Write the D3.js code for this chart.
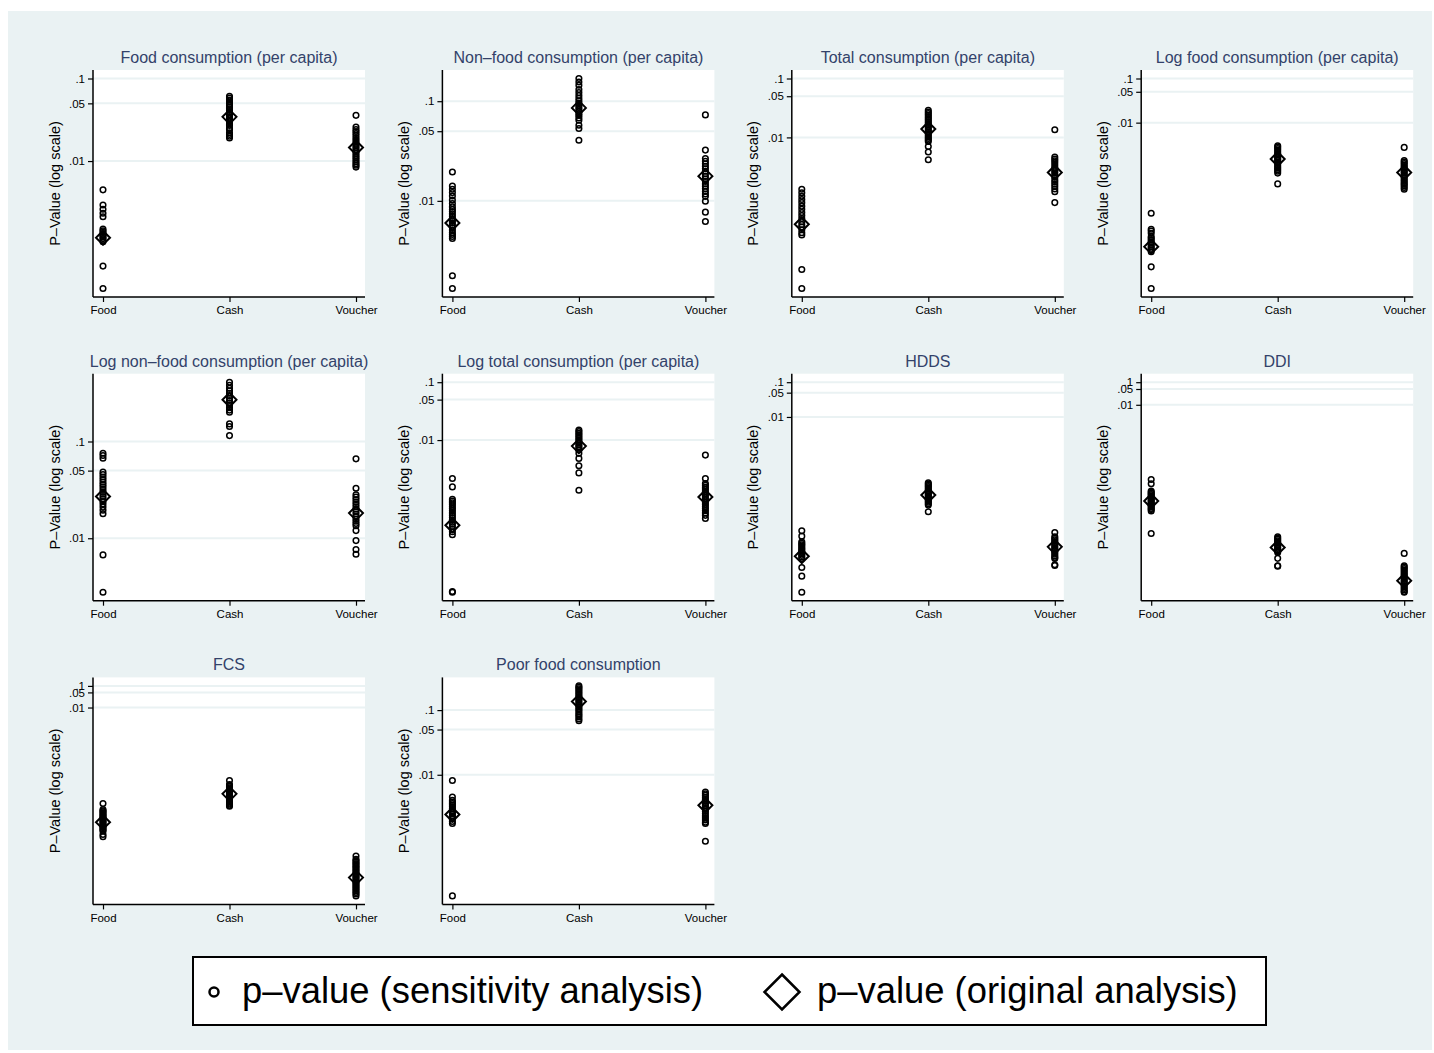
<!DOCTYPE html>
<html>
<head>
<meta charset="utf-8">
<script src="https://cdn.jsdelivr.net/npm/d3@7"></script>
<style>
  body { margin: 0; background: #fff; }
  svg { display: block; }
</style>
</head>
<body>
<div id="chart-area"></div>
<script>
const groups = ["Food", "Cash", "Voucher"]
const yTicks = [0.1, 0.05, 0.01]
const yTickLabels = [".1", ".05", ".01"]
const titles = [
  "Food consumption (per capita)", "Non\u2013food consumption (per capita)",
  "Total consumption (per capita)", "Log food consumption (per capita)",
  "Log non\u2013food consumption (per capita)", "Log total consumption (per capita)",
  "HDDS", "DDI", "FCS", "Poor food consumption"
]
const legendLabels = ["p\u2013value (sensitivity analysis)", "p\u2013value (original analysis)"]

// sensitivity p-values: [Food, Cash, Voucher]; original p-values in the same order
const foodSens = [
  [0.00448, 0.00294, 0.00261, 0.00233, 0.00212, 0.0015, 0.00143, 0.00137, 0.0013, 0.00125, 0.0012, 0.00115, 0.0011, 0.00105, 0.000534, 0.000286],
  [0.061, 0.058, 0.055, 0.052, 0.049, 0.047, 0.045, 0.043, 0.041, 0.039, 0.037, 0.036, 0.034, 0.033, 0.031, 0.030, 0.028, 0.027, 0.025, 0.024, 0.022, 0.021, 0.020, 0.019],
  [0.0358, 0.0259, 0.024, 0.0228, 0.0215, 0.0203, 0.019, 0.018, 0.017, 0.016, 0.0152, 0.0145, 0.0137, 0.013, 0.0123, 0.0116, 0.011, 0.0104, 0.0098, 0.0093, 0.0089, 0.00845]
]
const foodOrig = [0.00118, 0.0343, 0.0146]

const nonFoodSens = [
  [0.0195, 0.0141, 0.0131, 0.0121, 0.0112, 0.0102, 0.0094, 0.0087, 0.0082, 0.0078, 0.0074, 0.007, 0.0066, 0.0063, 0.006, 0.0057, 0.0054, 0.0051, 0.0048, 0.0046, 0.0044, 0.0042, 0.00177, 0.00132],
  [0.169, 0.156, 0.1445, 0.131, 0.122, 0.114, 0.107, 0.101, 0.096, 0.091, 0.087, 0.083, 0.079, 0.075, 0.072, 0.068, 0.0645, 0.0574, 0.0532, 0.0406],
  [0.0729, 0.0323, 0.0266, 0.025, 0.0236, 0.0222, 0.021, 0.0198, 0.0187, 0.0176, 0.0166, 0.0157, 0.0148, 0.014, 0.0132, 0.0124, 0.0117, 0.0111, 0.0099, 0.0077, 0.0062]
]
const nonFoodOrig = [0.006, 0.0857, 0.0177]

const totalSens = [
  [0.00132, 0.00115, 0.001, 0.00088, 0.00078, 0.00068, 0.0006, 0.00053, 0.00047, 0.00042, 0.00037, 0.00033, 0.0003, 0.00027, 0.00024, 0.00022, 0.0000573, 0.0000272],
  [0.0288, 0.027, 0.0253, 0.0237, 0.0222, 0.0208, 0.0195, 0.0183, 0.0172, 0.0161, 0.0151, 0.0141, 0.0132, 0.0124, 0.0116, 0.0109, 0.0102, 0.0096, 0.009, 0.00855, 0.007, 0.00564, 0.00417],
  [0.0135, 0.00464, 0.0043, 0.004, 0.0037, 0.0034, 0.0031, 0.0029, 0.0027, 0.0025, 0.0023, 0.0021, 0.0019, 0.00175, 0.0016, 0.00146, 0.00133, 0.0012, 0.000781]
]
const totalOrig = [0.000335, 0.0139, 0.00254]

const logFoodSens = [
  [8.85e-5, 3.84e-5, 3.5e-5, 3.11e-5, 2.61e-5, 2.4e-5, 2.2e-5, 2.0e-5, 1.85e-5, 1.7e-5, 1.55e-5, 1.42e-5, 1.3e-5, 1.19e-5, 5.42e-6, 1.75e-6],
  [0.003, 0.0028, 0.0026, 0.0024, 0.0022, 0.002, 0.0019, 0.0017, 0.0016, 0.0015, 0.0014, 0.0013, 0.0012, 0.0011, 0.001, 0.00093, 0.00086, 0.00079, 0.00072, 0.00041],
  [0.00275, 0.00139, 0.00128, 0.00118, 0.00109, 0.001, 0.00092, 0.00085, 0.00078, 0.00072, 0.00066, 0.00061, 0.00056, 0.00051, 0.00047, 0.00043, 0.0004, 0.00037, 0.00034, 0.000311]
]
const logFoodOrig = [1.55e-5, 0.0015, 0.00074]

const logNonFoodSens = [
  [0.0757, 0.0716, 0.0672, 0.0482, 0.0455, 0.043, 0.0405, 0.038, 0.036, 0.034, 0.032, 0.03, 0.0285, 0.027, 0.0255, 0.024, 0.0226, 0.021, 0.0195, 0.0179, 0.00673, 0.00277],
  [0.41, 0.38, 0.355, 0.335, 0.315, 0.295, 0.28, 0.265, 0.25, 0.236, 0.223, 0.211, 0.201, 0.152, 0.143, 0.115],
  [0.0662, 0.0329, 0.0281, 0.0266, 0.0251, 0.0237, 0.0224, 0.0212, 0.02, 0.0189, 0.0178, 0.0168, 0.0158, 0.015, 0.0142, 0.0135, 0.012, 0.00946, 0.00764, 0.00684]
]
const logNonFoodOrig = [0.027, 0.27, 0.0182]

const logTotalSens = [
  [0.00217, 0.00155, 0.00095, 0.00088, 0.00082, 0.00076, 0.0007, 0.00065, 0.0006, 0.00055, 0.0005, 0.00046, 0.00042, 0.00038, 0.00035, 0.00032, 0.00029, 0.00026, 0.000232, 2.42e-5, 2.35e-5],
  [0.0149, 0.014, 0.0131, 0.0123, 0.0115, 0.0108, 0.0101, 0.0094, 0.0088, 0.0082, 0.0077, 0.0072, 0.00671, 0.0059, 0.00482, 0.00359, 0.00271, 0.00136],
  [0.0055, 0.00217, 0.00178, 0.00165, 0.00153, 0.00142, 0.00131, 0.00121, 0.00112, 0.00104, 0.00096, 0.00089, 0.00082, 0.00076, 0.0007, 0.00065, 0.0006, 0.00055, 0.0005, 0.00044]
]
const logTotalOrig = [0.000337, 0.00787, 0.00104]

const hddsSens = [
  [5.28e-6, 3.72e-6, 2.55e-6, 2.3e-6, 2.1e-6, 1.9e-6, 1.7e-6, 1.55e-6, 1.4e-6, 1.27e-6, 1.15e-6, 1.04e-6, 9.4e-7, 8.47e-7, 4.67e-7, 2.62e-7, 9.06e-8],
  [1.28e-4, 1.18e-4, 1.08e-4, 9.9e-5, 9.1e-5, 8.3e-5, 7.6e-5, 7.0e-5, 6.4e-5, 5.9e-5, 5.4e-5, 4.9e-5, 4.5e-5, 4.1e-5, 3.8e-5, 3.5e-5, 3.2e-5, 2.91e-5, 1.87e-5],
  [4.75e-6, 3.55e-6, 3.2e-6, 2.9e-6, 2.6e-6, 2.35e-6, 2.1e-6, 1.9e-6, 1.7e-6, 1.55e-6, 1.4e-6, 1.25e-6, 1.12e-6, 1e-6, 9e-7, 8.47e-7, 5.6e-7, 5.3e-7]
]
const hddsOrig = [9.86e-7, 5.65e-5, 1.83e-6]

const ddiSens = [
  [4.97e-6, 3.21e-6, 1.52e-6, 1.35e-6, 1.2e-6, 1.06e-6, 9.4e-7, 8.3e-7, 7.3e-7, 6.5e-7, 5.7e-7, 5e-7, 4.4e-7, 3.9e-7, 3.4e-7, 3e-7, 2.6e-7, 2.3e-7, 2e-7, 2.01e-8],
  [1.43e-8, 1.25e-8, 1.1e-8, 9.6e-9, 8.4e-9, 7.4e-9, 6.5e-9, 5.7e-9, 5e-9, 4.4e-9, 3.8e-9, 3.35e-9, 2.93e-9, 1.6e-9, 7.5e-10, 7.2e-10],
  [2.65e-9, 7.5e-10, 6.5e-10, 5.6e-10, 4.8e-10, 4.1e-10, 3.5e-10, 3e-10, 2.6e-10, 2.2e-10, 1.9e-10, 1.6e-10, 1.4e-10, 1.2e-10, 1e-10, 8.6e-11, 7.4e-11, 6.3e-11, 5.4e-11, 5.07e-11]
]
const ddiOrig = [5.5e-7, 4.86e-9, 1.64e-10]

const fcsSens = [
  [3.65e-7, 1.93e-7, 1.7e-7, 1.5e-7, 1.32e-7, 1.16e-7, 1.02e-7, 9e-8, 7.9e-8, 7e-8, 6.1e-8, 5.4e-8, 4.7e-8, 4.1e-8, 3.6e-8, 3.2e-8, 2.8e-8, 2.45e-8, 2.15e-8, 1.93e-8, 1.36e-8, 1.07e-8],
  [4.19e-6, 2.74e-6, 2.45e-6, 2.2e-6, 1.95e-6, 1.75e-6, 1.55e-6, 1.38e-6, 1.23e-6, 1.1e-6, 9.8e-7, 8.7e-7, 7.7e-7, 6.9e-7, 6.1e-7, 5.4e-7, 4.8e-7, 4.3e-7, 3.8e-7, 3.4e-7, 3e-7, 2.74e-7],
  [1.36e-9, 9.6e-10, 8.3e-10, 7.1e-10, 6.1e-10, 5.2e-10, 4.5e-10, 3.9e-10, 3.3e-10, 2.85e-10, 2.45e-10, 2.1e-10, 1.8e-10, 1.55e-10, 1.33e-10, 1.14e-10, 9.8e-11, 8.4e-11, 7.2e-11, 6.2e-11, 5.3e-11, 4.5e-11, 3.9e-11, 3.3e-11, 2.8e-11, 2.4e-11, 1.95e-11]
]
const fcsOrig = [5e-8, 1.02e-6, 1.37e-10]

const poorFoodSens = [
  [0.00817, 0.00452, 0.00403, 0.0038, 0.0036, 0.0034, 0.0032, 0.003, 0.0028, 0.0026, 0.0025, 0.0023, 0.0022, 0.00205, 0.0019, 0.00176, 0.000134],
  [0.2366, 0.225, 0.213, 0.202, 0.19, 0.18, 0.17, 0.16, 0.151, 0.143, 0.135, 0.127, 0.12, 0.113, 0.106, 0.1, 0.094, 0.088, 0.083, 0.078, 0.073, 0.0684],
  [0.0054, 0.0051, 0.0048, 0.0045, 0.0042, 0.004, 0.0037, 0.0035, 0.0033, 0.0031, 0.0029, 0.0027, 0.0025, 0.0023, 0.00215, 0.002, 0.00185, 0.00176, 0.00094]
]
const poorFoodOrig = [0.00243, 0.1355, 0.00337]

const panels = [
  [foodSens, foodOrig], [nonFoodSens, nonFoodOrig], [totalSens, totalOrig], [logFoodSens, logFoodOrig],
  [logNonFoodSens, logNonFoodOrig], [logTotalSens, logTotalOrig], [hddsSens, hddsOrig], [ddiSens, ddiOrig],
  [fcsSens, fcsOrig], [poorFoodSens, poorFoodOrig]
].map((d, i) => ({ title: titles[i], sens: d[0], orig: d[1] }))

const FONT = "'Liberation Sans', Arial, Helvetica, sans-serif"
const BG = "#eaf2f3"
const PW = 272, PH = 227, PAD = 8.5

const svg = d3.select("#chart-area").append("svg")
  .attr("width", 1434)
  .attr("height", 1053)

svg.append("rect")
  .attr("x", 8).attr("y", 11)
  .attr("width", 1424).attr("height", 1039)
  .attr("fill", BG)

const diamond = s => `M0,${-s}L${s},0L0,${s}L${-s},0Z`

panels.forEach((p, i) => {
  const col = i % 4, row = Math.floor(i / 4)
  const g = svg.append("g")
    .attr("transform", `translate(${93 + col * 349.4}, ${70 + row * 303.7})`)

  g.append("rect").attr("width", PW).attr("height", PH).attr("fill", "#fff")

  const all = p.sens.flat().concat(p.orig, yTicks)
  const y = d3.scaleLog()
    .domain([d3.min(all), d3.max(all)])
    .range([PH - PAD, PAD])
  const x = d3.scalePoint()
    .domain(groups)
    .range([10, 263])

  // gridlines
  g.selectAll(".grid")
    .data(yTicks)
    .enter().append("line")
    .attr("x1", 0).attr("x2", PW)
    .attr("y1", d => y(d)).attr("y2", d => y(d))
    .attr("stroke", BG).attr("stroke-width", 2)

  // sensitivity points
  p.sens.forEach((vals, j) => {
    g.selectAll(null)
      .data(vals)
      .enter().append("circle")
      .attr("cx", x(groups[j]))
      .attr("cy", d => y(d))
      .attr("r", 2.8)
      .attr("fill", "none")
      .attr("stroke", "#000")
      .attr("stroke-width", 1.5)
  })

  // original points
  g.selectAll(null)
    .data(p.orig)
    .enter().append("path")
    .attr("d", diamond(7))
    .attr("transform", (d, j) => `translate(${x(groups[j])}, ${y(d)})`)
    .attr("fill", "none")
    .attr("stroke", "#000")
    .attr("stroke-width", 2)

  const yAxis = g.append("g")
    .call(d3.axisLeft(y).tickValues(yTicks).tickFormat((d, j) => yTickLabels[j]).tickSize(5).tickPadding(3))
  const xAxis = g.append("g")
    .attr("transform", `translate(0, ${PH})`)
    .call(d3.axisBottom(x).tickSize(5).tickPadding(4))
  ;[yAxis, xAxis].forEach(a => {
    a.select(".domain").remove()
    a.selectAll("line").attr("stroke", "#000").attr("stroke-width", 1.2)
    a.selectAll("text").attr("fill", "#000").style("font-family", FONT).style("font-size", "11.5px")
  })

  g.append("line").attr("x1", 0).attr("x2", 0).attr("y1", 0).attr("y2", PH)
    .attr("stroke", "#000").attr("stroke-width", 1.5)
  g.append("line").attr("x1", 0).attr("x2", PW).attr("y1", PH).attr("y2", PH)
    .attr("stroke", "#000").attr("stroke-width", 1.5)

  g.append("text")
    .attr("x", PW / 2).attr("y", -7)
    .attr("text-anchor", "middle")
    .style("font-family", FONT).style("font-size", "16px")
    .attr("fill", "#33426a")
    .text(p.title)

  g.append("text")
    .attr("transform", `translate(-33.5, ${PH / 2}) rotate(-90)`)
    .attr("text-anchor", "middle")
    .style("font-family", FONT).style("font-size", "14.5px")
    .attr("fill", "#000")
    .text("P\u2013Value (log scale)")
})

// legend
const lg = svg.append("g")
lg.append("rect")
  .attr("x", 193).attr("y", 957).attr("width", 1073).attr("height", 68)
  .attr("fill", "#fff").attr("stroke", "#000").attr("stroke-width", 2)
lg.append("circle")
  .attr("cx", 214).attr("cy", 992).attr("r", 4.5)
  .attr("fill", "none").attr("stroke", "#000").attr("stroke-width", 2.5)
lg.append("path")
  .attr("d", diamond(17.5))
  .attr("transform", "translate(782, 992)")
  .attr("fill", "none").attr("stroke", "#000").attr("stroke-width", 2.5)
lg.selectAll(".lt")
  .data(legendLabels)
  .enter().append("text")
  .attr("x", (d, i) => i ? 817 : 242)
  .attr("y", 1003)
  .style("font-family", FONT).style("font-size", "36.4px")
  .attr("fill", "#000")
  .text(d => d)
</script>
</body>
</html>
